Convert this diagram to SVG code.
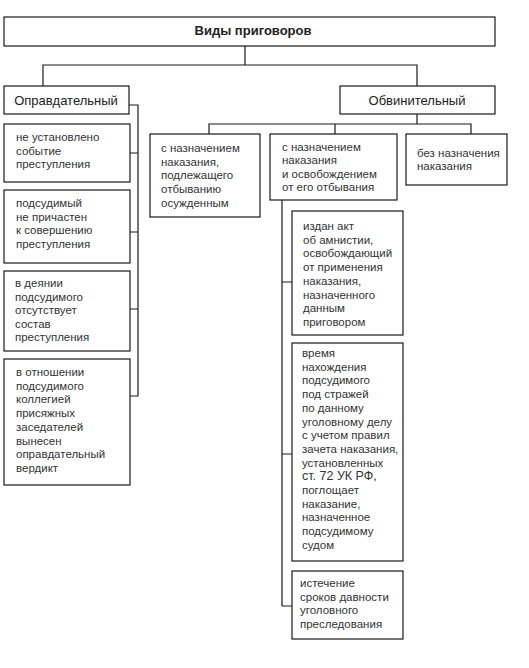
<svg xmlns="http://www.w3.org/2000/svg" width="529" height="668" viewBox="0 0 529 668">
<style>
.b{fill:#fff;stroke:#1a1a1a;stroke-width:1.2}
.t{font-family:"Liberation Sans",Arial,sans-serif;font-size:11.5px;fill:#333}
.h{font-family:"Liberation Sans",Arial,sans-serif;font-size:13px;fill:#222;text-anchor:middle}
.c{fill:none;stroke:#1a1a1a;stroke-width:1.2}
</style>
<rect width="529" height="668" fill="#fff"/>
<g id="connectors">
<path class="c" d="M245 46V65M43 86V65H417V86"/>
<path class="c" d="M129 105H138V396H130M130 153H138M130 232H138M130 309H138"/>
<path class="c" d="M417 114V124M209 134V124H471V134M335 124V134"/>
<path class="c" d="M282 200V606H292M282 282H292M282 454H292" stroke="#555"/>
</g>
<g id="root"><rect class="b" x="4" y="17" width="491" height="29"/><text class="h" x="253" y="35" font-weight="bold" font-size="12.5">Виды приговоров</text></g>
<g id="acq"><rect class="b" x="4" y="86" width="125" height="28"/><text class="h" x="66" y="104.5">Оправдательный</text></g>
<g id="conv"><rect class="b" x="340" y="86" width="155" height="28"/><text class="h" x="417" y="104.5">Обвинительный</text></g>
<g id="a1"><rect class="b" x="4" y="124" width="126" height="58"/><text class="t" x="16" y="141"><tspan x="16">не установлено</tspan><tspan x="16" dy="13.6">событие</tspan><tspan x="16" dy="13.6">преступления</tspan></text></g>
<g id="a2"><rect class="b" x="4" y="190" width="126" height="73"/><text class="t" x="16" y="207"><tspan x="16">подсудимый</tspan><tspan x="16" dy="13.5">не причастен</tspan><tspan x="16" dy="13.5">к совершению</tspan><tspan x="16" dy="13.5">преступления</tspan></text></g>
<g id="a3"><rect class="b" x="4" y="271" width="126" height="80"/><text class="t" x="15" y="287"><tspan x="15">в деянии</tspan><tspan x="15" dy="13.6">подсудимого</tspan><tspan x="15" dy="13.6">отсутствует</tspan><tspan x="15" dy="13.6">состав</tspan><tspan x="15" dy="13.6">преступления</tspan></text></g>
<g id="a4"><rect class="b" x="4" y="359" width="126" height="126"/><text class="t" x="16" y="376"><tspan x="16">в отношении</tspan><tspan x="16" dy="13.7">подсудимого</tspan><tspan x="16" dy="13.7">коллегией</tspan><tspan x="16" dy="13.7">присяжных</tspan><tspan x="16" dy="13.7">заседателей</tspan><tspan x="16" dy="13.7">вынесен</tspan><tspan x="16" dy="13.7">оправдательный</tspan><tspan x="16" dy="13.7">вердикт</tspan></text></g>
<g id="c1"><rect class="b" x="150" y="134" width="110" height="83"/><text class="t" x="161" y="152"><tspan x="161">с назначением</tspan><tspan x="161" dy="13.7">наказания,</tspan><tspan x="161" dy="13.7">подлежащего</tspan><tspan x="161" dy="13.7">отбыванию</tspan><tspan x="161" dy="13.7">осужденным</tspan></text></g>
<g id="c2"><rect class="b" x="270" y="134" width="127" height="66"/><text class="t" x="282" y="151"><tspan x="282">с назначением</tspan><tspan x="282" dy="13.4">наказания</tspan><tspan x="282" dy="13.4">и освобождением</tspan><tspan x="282" dy="13.4">от его отбывания</tspan></text></g>
<g id="c3"><rect class="b" x="406" y="134" width="101" height="51"/><text class="t" x="417" y="157"><tspan x="417">без назначения</tspan><tspan x="417" dy="12.8">наказания</tspan></text></g>
<g id="r1"><rect class="b" x="292" y="211" width="111" height="124"/><text class="t" x="303" y="230"><tspan x="303">издан акт</tspan><tspan x="303" dy="13.7">об амнистии,</tspan><tspan x="303" dy="13.7">освобождающий</tspan><tspan x="303" dy="13.7">от применения</tspan><tspan x="303" dy="13.7">наказания,</tspan><tspan x="303" dy="13.7">назначенного</tspan><tspan x="303" dy="13.7">данным</tspan><tspan x="303" dy="13.7">приговором</tspan></text></g>
<g id="r2"><rect class="b" x="292" y="343" width="111" height="218"/><text class="t" x="302" y="357"><tspan x="302">время</tspan><tspan x="302" dy="13.7">нахождения</tspan><tspan x="302" dy="13.7">подсудимого</tspan><tspan x="302" dy="13.7">под стражей</tspan><tspan x="302" dy="13.7">по данному</tspan><tspan x="302" dy="13.7">уголовному делу</tspan><tspan x="302" dy="13.7">с учетом правил</tspan><tspan x="302" dy="13.7">зачета наказания,</tspan><tspan x="302" dy="13.7">установленных</tspan><tspan x="302" dy="13.7" font-size="12.5">ст. 72 УК РФ,</tspan><tspan x="302" dy="13.7">поглощает</tspan><tspan x="302" dy="13.7">наказание,</tspan><tspan x="302" dy="13.7">назначенное</tspan><tspan x="302" dy="13.7">подсудимому</tspan><tspan x="302" dy="13.7">судом</tspan></text></g>
<g id="r3"><rect class="b" x="292" y="571" width="111" height="68"/><text class="t" x="300" y="587"><tspan x="300">истечение</tspan><tspan x="300" dy="13.7">сроков давности</tspan><tspan x="300" dy="13.7">уголовного</tspan><tspan x="300" dy="13.7">преследования</tspan></text></g>
</svg>
